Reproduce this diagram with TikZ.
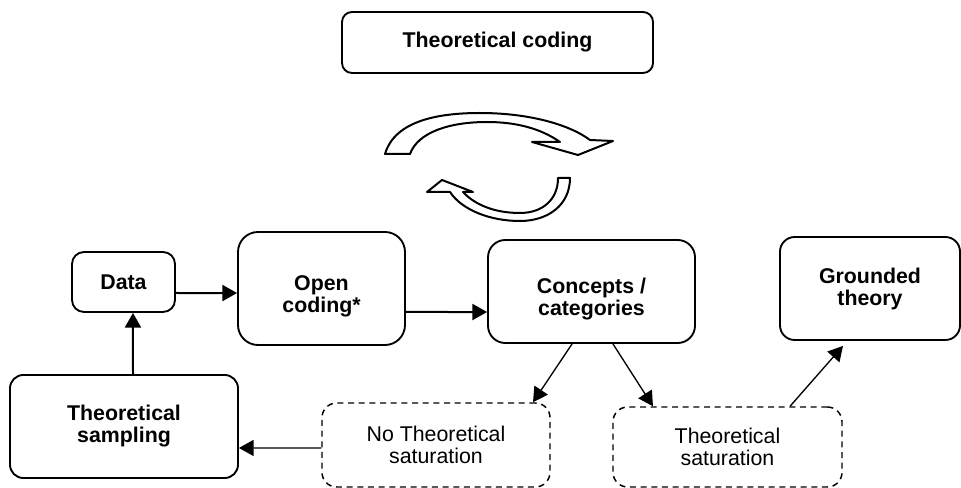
\documentclass[tikz,border=0pt]{standalone}
\usepackage{fontspec}
\setmainfont{Liberation Sans}
\usetikzlibrary{arrows.meta}

\begin{document}
\begin{tikzpicture}[x=0.75pt,y=-0.75pt,
		box/.style={draw,line width=1.4pt,align=center,inner sep=0pt,font=\fontsize{16}{16.5}\selectfont\bfseries},
		dashbox/.style={draw,line width=1.1pt,dash pattern=on 4.5pt off 3.5pt,align=center,inner sep=0pt,font=\fontsize{16}{17}\selectfont},
		lowtext/.style={text height=39pt},
		arr/.style={-{Triangle[length=11pt,width=12pt]},line width=1.5pt},
		thinarr/.style={-{Triangle[length=11pt,width=12pt]},line width=1pt},
		cyclearrow/.style={draw,fill=white,line width=1.5pt,line join=round}]
		\useasboundingbox (0,0) rectangle (961,488);

		\node[box,rounded corners=7.5pt,minimum width=233.25pt,minimum height=45.75pt] (tcod) at (497.5,42.5) {Theoretical coding};
		\node[box,rounded corners=9pt,minimum width=77.25pt,minimum height=45pt] (data) at (123.5,282) {Data};
		\node[box,lowtext,rounded corners=15pt,minimum width=125.25pt,minimum height=84.75pt] (open) at (321.5,288.5) {Open\\coding*};
		\node[box,lowtext,rounded corners=13pt,minimum width=155.25pt,minimum height=77.25pt] (concepts) at (591.5,291.5) {Concepts /\\categories};
		\node[box,rounded corners=11pt,minimum width=135pt,minimum height=77.25pt] (grounded) at (870,288.5) {Grounded\\theory};
		\node[box,rounded corners=10pt,minimum width=171pt,minimum height=77.25pt] (sampling) at (124,426.5) {Theoretical\\sampling};
		\node[dashbox,rounded corners=11pt,minimum width=171pt,minimum height=63pt] (nosat) at (436,445) {No Theoretical\\saturation};
		\node[dashbox,rounded corners=11pt,minimum width=171.75pt,minimum height=60pt] (sat) at (727.5,447) {Theoretical\\saturation};

		% cycle of coding
		\draw[cyclearrow] (385,154) .. controls (395,120) and (440,113) .. (480,113)
			.. controls (530,113) and (570,125) .. (590,140) -- (613,141) -- (578,155) -- (532,142) -- (560,142)
			.. controls (540,128) and (515,122) .. (487,122) .. controls (450,122) and (418,132) .. (410,154) -- cycle;
		\draw[cyclearrow] (570,178) .. controls (570,205) and (548,221) .. (520,221)
			.. controls (490,221) and (462,210) .. (450,192) -- (427,192) -- (442,180) -- (473,192) -- (463,192)
			.. controls (475,205) and (495,213) .. (520,213) .. controls (542,213) and (558,200) .. (558,178) -- cycle;

		\draw[arr] ([yshift=-8.25pt]data.east) -- ([yshift=-3.4pt]open.west);
		\draw[arr] ([yshift=-17.6pt]open.east) -- ([yshift=-15.4pt]concepts.west);
		\draw[arr] ([xshift=6.75pt]sampling.north) -- ([xshift=7.1pt]data.south);
		\draw[thinarr] ([yshift=-2.25pt]nosat.west) -- ([yshift=-16.1pt]sampling.east);
		\draw[thinarr] ([xshift=-14.6pt]concepts.south) -- ([xshift=72.75pt]nosat.north);
		\draw[thinarr] ([xshift=16.1pt]concepts.south) -- ([xshift=-55.9pt]sat.north);
		\draw[thinarr] ([xshift=46.9pt]sat.north) -- ([xshift=-20.25pt,yshift=-3.75pt]grounded.south);
	\end{tikzpicture}
\end{document}
